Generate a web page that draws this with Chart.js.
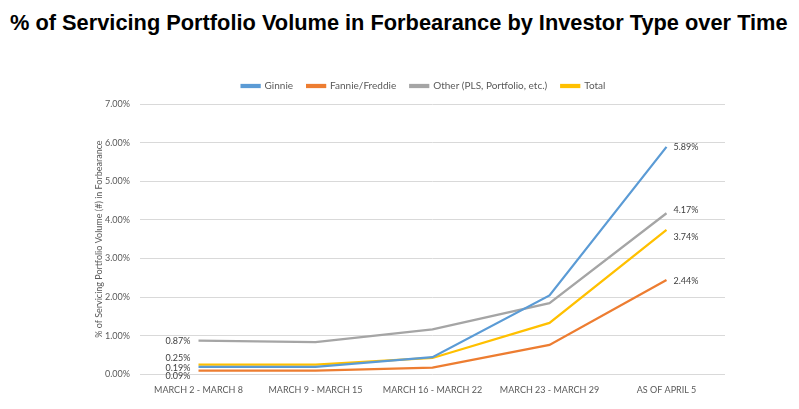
<!DOCTYPE html>
<html>
<head>
<meta charset="utf-8">
<script src="https://cdn.jsdelivr.net/npm/chart.js@4/dist/chart.umd.min.js"></script>
<style>
  html, body { margin: 0; padding: 0; background: #fff; }
  #wrap { position: relative; width: 799px; height: 409px; }
  #title {
    position: absolute; left: 10px; top: 10px;
    font: bold 21.8px "Liberation Sans", Arial, sans-serif; color: #000;
    white-space: nowrap;
  }
  canvas { position: absolute; left: 0; top: 0; }
</style>
</head>
<body>
<div id="wrap">
  <div id="title">% of Servicing Portfolio Volume in Forbearance by Investor Type over Time</div>
  <canvas id="chart" width="799" height="409"></canvas>
</div>
<script>
// categories + series (percent of servicing portfolio)
const weeks = ['MARCH 2 - MARCH 8', 'MARCH 9 - MARCH 15', 'MARCH 16 - MARCH 22', 'MARCH 23 - MARCH 29', 'AS OF APRIL 5']
const ginnie = [0.19, 0.19, 0.44, 2.04, 5.89]
const fannieFreddie = [0.09, 0.09, 0.17, 0.76, 2.44]
const other = [0.87, 0.83, 1.16, 1.84, 4.17]
const total = [0.25, 0.25, 0.42, 1.33, 3.74]
const yTicks = [0, 1, 2, 3, 4, 5, 6, 7]

const seriesNames = ['Ginnie', 'Fannie/Freddie', 'Other (PLS, Portfolio, etc.)', 'Total']
const seriesColors = ['#5B9BD5', '#ED7D31', '#A5A5A5', '#FFC000']

// label nudges (px) so the end labels don't overlap: [first, last]
const nudges = [[1, 0], [5, 1], [0, -3], [-6, 7]]

const fontFam = 'Lato, "Liberation Sans", sans-serif'

// draws the % labels at the first and last point of each line
const endLabels = {
    id: 'endLabels',
    afterDatasetsDraw(chart) {
        const ctx = chart.ctx
        ctx.save()
        ctx.font = '9px ' + fontFam
        ctx.fillStyle = '#404040'
        ctx.textBaseline = 'middle'
        chart.data.datasets.forEach((ds, i) => {
            const pts = chart.getDatasetMeta(i).data
            const first = pts[0], last = pts[pts.length - 1]
            ctx.textAlign = 'right'
            ctx.fillText(ds.data[0].toFixed(2) + '%', first.x - 8, first.y + nudges[i][0])
            ctx.textAlign = 'left'
            ctx.fillText(ds.data[ds.data.length - 1].toFixed(2) + '%', last.x + 7, last.y + nudges[i][1])
        })
        ctx.restore()
    }
}

// nudge the legend a bit right/up, like the original
const legendShift = {
    id: 'legendShift',
    afterLayout(chart) {
        const lg = chart.legend
        lg.left += 14
        lg.right += 14
        lg.top -= 3
        lg.bottom -= 3
    }
}

const ctx = document.getElementById('chart').getContext('2d')
const myChart = new Chart(ctx, {
    type: 'line',
    data: {
        labels: weeks,
        datasets: [ginnie, fannieFreddie, other, total].map((d, i) => ({
            label: seriesNames[i],
            data: d,
            borderColor: seriesColors[i],
            backgroundColor: seriesColors[i],
            borderWidth: 2.25,
            pointRadius: 0,
            tension: 0
        }))
    },
    options: {
        responsive: false,
        animation: false,
        layout: { padding: { left: 94, right: 74, top: 70, bottom: 4 } },
        plugins: {
            tooltip: { enabled: false },
            legend: {
                position: 'top',
                labels: {
                    boxWidth: 18,
                    boxHeight: 2,
                    padding: 14,
                    color: '#595959',
                    font: { family: fontFam, size: 10 }
                }
            }
        },
        scales: {
            x: {
                offset: true,
                grid: { display: false, drawTicks: false },
                border: { display: false },
                ticks: {
                    color: '#595959',
                    font: { family: fontFam, size: 9 },
                    maxRotation: 0,
                    padding: 10
                }
            },
            y: {
                min: yTicks[0],
                max: yTicks[yTicks.length - 1],
                afterBuildTicks: (scale) => { scale.ticks = yTicks.map(v => ({ value: v })) },
                afterFit: (scale) => { scale.width = 46 },
                grid: { color: '#d9d9d9', lineWidth: 1, drawTicks: false },
                border: { display: false },
                ticks: {
                    color: '#595959',
                    font: { family: fontFam, size: 9 },
                    padding: 10,
                    callback: (v) => v.toFixed(2) + '%'
                },
                title: {
                    display: true,
                    text: '% of Servicing Portfolio Volume (#) in Forbearance',
                    color: '#595959',
                    font: { family: fontFam, size: 9 },
                    padding: 0
                }
            }
        }
    },
    plugins: [endLabels, legendShift]
})
</script>
</body>
</html>
